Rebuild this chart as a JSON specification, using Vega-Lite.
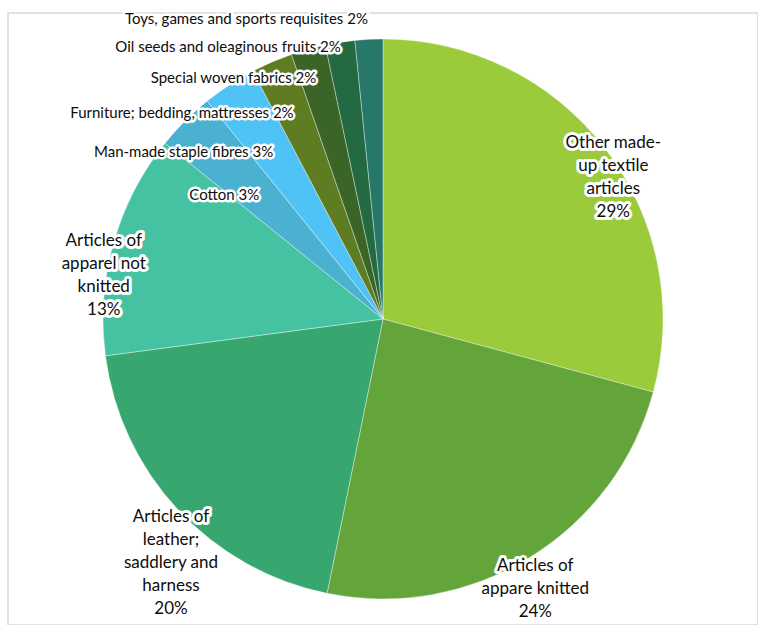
{
  "$schema": "https://vega.github.io/schema/vega-lite/v6.json",
  "width": 750,
  "height": 612,
  "autosize": "none",
  "padding": {"left": 8, "top": 13, "right": 0, "bottom": 0},
  "background": "#ffffff",
  "view": {"stroke": "#d9d9d9", "strokeWidth": 1.5},
  "config": {"font": "Lato", "text": {"font": "Lato"}},
  "data": {
    "values": [
      {"category": "Other made-up textile articles", "value": 29.2, "label": "Other made-\nup textile\narticles\n29%"},
      {"category": "Articles of apparel knitted", "value": 24.0, "label": "Articles of\nappare knitted\n24%"},
      {"category": "Articles of leather; saddlery and harness", "value": 19.7, "label": "Articles of\nleather;\nsaddlery and\nharness\n20%"},
      {"category": "Articles of apparel not knitted", "value": 12.9, "label": "Articles of\napparel not\nknitted\n13%"},
      {"category": "Cotton", "value": 3.4, "label": "Cotton 3%"},
      {"category": "Man-made staple fibres", "value": 3.1, "label": "Man-made staple fibres 3%"},
      {"category": "Furniture; bedding, mattresses", "value": 2.4, "label": "Furniture; bedding, mattresses 2%"},
      {"category": "Special woven fabrics", "value": 2.0, "label": "Special woven fabrics 2%"},
      {"category": "Oil seeds and oleaginous fruits", "value": 1.7, "label": "Oil seeds and oleaginous fruits 2%"},
      {"category": "Toys, games and sports requisites", "value": 1.6, "label": "Toys, games and sports requisites 2%"}
    ]
  },
  "encoding": {
    "theta": {"field": "value", "type": "quantitative", "stack": true},
    "order": {"field": "value", "type": "quantitative", "sort": "descending"},
    "detail": {"field": "category", "type": "nominal"}
  },
  "layer": [
    {
      "mark": {"type": "arc", "outerRadius": 280, "stroke": "#ffffff", "strokeWidth": 0.6, "strokeOpacity": 0.6},
      "encoding": {
        "color": {
          "field": "category",
          "type": "nominal",
          "legend": null,
          "scale": {
            "domain": [
              "Other made-up textile articles",
              "Articles of apparel knitted",
              "Articles of leather; saddlery and harness",
              "Articles of apparel not knitted",
              "Cotton",
              "Man-made staple fibres",
              "Furniture; bedding, mattresses",
              "Special woven fabrics",
              "Oil seeds and oleaginous fruits",
              "Toys, games and sports requisites"
            ],
            "range": ["#9BCB3B", "#63A53A", "#38A66F", "#45C2A2", "#4BB1D0", "#50C3F6", "#5E7C22", "#3B6526", "#236A42", "#277868"]
          }
        }
      }
    },
    {
      "transform": [{"filter": "datum.value >= 10"}],
      "mark": {"type": "text", "radius": 290, "fontSize": 17, "lineHeight": 23, "lineBreak": "\n", "align": "center", "baseline": "middle", "fill": "#ffffff", "stroke": "#ffffff", "strokeWidth": 6, "strokeJoin": "round"},
      "encoding": {"text": {"field": "label", "type": "nominal"}}
    },
    {
      "transform": [{"filter": "datum.value >= 10"}],
      "mark": {"type": "text", "radius": 290, "fontSize": 17, "lineHeight": 23, "lineBreak": "\n", "align": "center", "baseline": "middle", "fill": "#0d0d0d"},
      "encoding": {"text": {"field": "label", "type": "nominal"}}
    },
    {
      "mark": {"type": "text", "fontSize": 15, "align": "right", "baseline": "middle", "fill": "#ffffff", "stroke": "#ffffff", "strokeWidth": 5, "strokeJoin": "round"},
      "encoding": {
        "text": {"condition": {"test": "datum.value < 10", "field": "label", "type": "nominal"}, "value": ""},
        "radius": {
          "field": "value",
          "type": "ordinal",
          "scale": {"type": "point", "padding": 0, "domain": [3.4, 3.1, 2.4, 2.0, 1.7, 1.6, 12.9, 19.7, 24.0, 29.2], "range": [175, 400]}
        }
      }
    },
    {
      "mark": {"type": "text", "fontSize": 15, "align": "right", "baseline": "middle", "fill": "#0d0d0d"},
      "encoding": {
        "text": {"condition": {"test": "datum.value < 10", "field": "label", "type": "nominal"}, "value": ""},
        "radius": {
          "field": "value",
          "type": "ordinal",
          "scale": {"type": "point", "padding": 0, "domain": [3.4, 3.1, 2.4, 2.0, 1.7, 1.6, 12.9, 19.7, 24.0, 29.2], "range": [175, 400]}
        }
      }
    }
  ]
}
